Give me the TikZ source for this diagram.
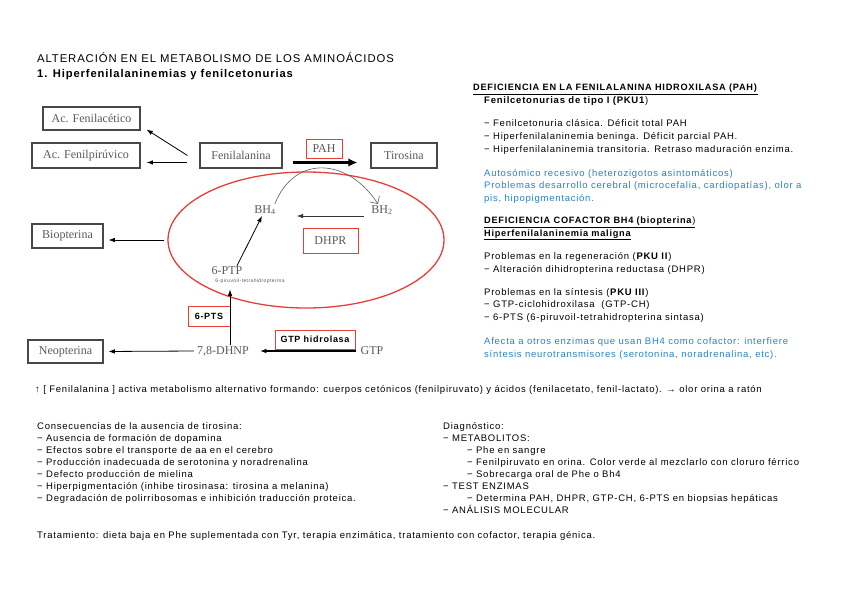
\documentclass[tikz,border=0pt]{standalone}
\usepackage{fontspec}
\setmainfont[LetterSpace=8]{Liberation Sans}
\newfontfamily\boxfont{Liberation Serif}
\usetikzlibrary{arrows.meta,positioning,calc,shapes.geometric}
\definecolor{boxgray}{RGB}{90,90,90}
\definecolor{enzred}{RGB}{232,62,56}
\definecolor{noteblue}{RGB}{38,130,200}
\begin{document}
\begin{tikzpicture}[x=1pt,y=-1pt,
 txt/.style={anchor=base west,inner sep=0,align=left,font=\fontsize{9.5}{12.4}\selectfont},
 low/.style={txt,font=\fontsize{9.5}{12}\selectfont},
 head/.style={txt,font=\fontsize{9.2}{12.4}\selectfont},
 met/.style={draw=boxgray!80!black,line width=1.1pt,fill=white,font=\boxfont\fontsize{12}{14}\selectfont,text=boxgray,inner sep=0},
 lbl/.style={font=\boxfont\fontsize{12}{14}\selectfont,text=boxgray,inner sep=1pt},
 enz/.style={draw=enzred,line width=0.9pt,fill=white,inner sep=0},
 arr/.style={-{Latex[length=2.2mm,width=1.6mm]},line width=0.8pt},
 bigarr/.style={-{Latex[length=3.2mm,width=3mm]},line width=2.6pt}]
\useasboundingbox (0,0) rectangle (848,599);
\node[txt,font=\fontsize{11.3}{13}\selectfont] (title) at (37,63) {ALTERACIÓN EN EL METABOLISMO DE LOS AMINOÁCIDOS};
\node[txt,font=\bfseries\fontsize{11.2}{13}\selectfont] (subtitle) at (37,78) {1. Hiperfenilalaninemias y fenilcetonurias};
\node[ellipse,draw=enzred,line width=1.3pt,minimum width=276,minimum height=136] (cycle) at (306,240) {};
\node[met,minimum width=97,minimum height=23] (acfa) at (91.5,118.5) {Ac. Fenilacético};
\node[met,minimum width=108,minimum height=25] (acfp) at (86,155.5) {Ac. Fenilpirúvico};
\node[met,minimum width=82,minimum height=25] (fen) at (241,155.5) {Fenilalanina};
\node[met,minimum width=66,minimum height=25] (tir) at (404,155.5) {Tirosina};
\node[met,minimum width=71,minimum height=24] (biop) at (67.5,236) {Biopterina};
\node[met,minimum width=75,minimum height=23] (neop) at (65.5,351.5) {Neopterina};
\node[enz,lbl,minimum width=36,minimum height=19] (pah) at (324,148.5) {PAH};
\node[enz,lbl,minimum width=55,minimum height=25] (dhpr) at (330.5,240.5) {DHPR};
\node[enz,font=\bfseries\fontsize{9}{11}\selectfont,minimum width=42,minimum height=20] (pts) at (209,316) {6-PTS};
\node[enz,font=\bfseries\fontsize{9}{11}\selectfont,minimum width=80,minimum height=19] (gtph) at (315,339.5) {GTP hidrolasa};
\node[lbl] (bh4) at (265,210) {BH\textsubscript{4}};
\node[lbl] (bh2) at (382,210) {BH\textsubscript{2}};
\node[lbl] (ptp) at (227,271) {6-PTP};
\node[inner sep=0,font=\fontsize{5}{6}\selectfont,text=boxgray] (ptpname) at (250,281) {6-piruvoil-tetrahidropterina};
\node[lbl] (dhnp) at (223,351) {7,8-DHNP};
\node[lbl] (gtp) at (372,351) {GTP};
\draw[arr] ([xshift=-12pt]fen.west) -- ([xshift=6pt,yshift=1pt]acfa.south east);
\draw[arr] ([xshift=-12pt,yshift=-7pt]fen.west) -- ([xshift=6pt,yshift=-7pt]acfp.east);
\draw[bigarr] ([xshift=10pt,yshift=-7pt]fen.east) -- ([xshift=-13pt,yshift=-7pt]tir.west);
\draw[-{Straight Barb[length=2mm]},boxgray,line width=0.6pt] ([xshift=-2pt]bh4.north east) .. controls +(20,-50) and +(-30,-46) .. ([xshift=-4pt]bh2.north);
\draw[arr,boxgray!60!black,shorten <=6pt,shorten >=20pt] ([yshift=-6pt]bh2.west) -- ([yshift=-6pt]bh4.east);
\draw[arr,shorten <=3pt,shorten >=5pt] (cycle.west) -- (cycle.west -| biop.east);
\draw[arr] ([xshift=10pt]ptp.north) -- ([xshift=-3pt]bh4.south);
\draw[arr] ([xshift=7pt]dhnp.north) -- ([xshift=7pt,yshift=-6pt]dhnp.north |- ptpname.south);
\draw[arr,line width=1.2pt,shorten <=3pt,shorten >=10pt] (gtp.west) -- (dhnp.east);
\draw[arr,shorten <=2pt,shorten >=5pt] (dhnp.west) -- (neop.east);
\node[head] (pahhead) at (473,91) {\underline{\textbf{DEFICIENCIA EN LA FENILALANINA HIDROXILASA (PAH)}}};
\node[txt] (pku1) at (484,103) {\textbf{Fenilcetonurias de tipo I (PKU1})};
\node[txt,font=\fontsize{9.5}{13}\selectfont] (pku1list) at (484,152) {− Fenilcetonuria clásica. Déficit total PAH\\− Hiperfenilalaninemia beninga. Déficit parcial PAH.\\− Hiperfenilalaninemia transitoria. Retraso maduración enzima.};
\node[txt,text=noteblue] (pku1note) at (484,201) {Autosómico recesivo (heterozigotos asintomáticos)\\Problemas desarrollo cerebral (microcefalia, cardiopatías), olor a\\pis, hipopigmentación.};
\node[head] (bh4head) at (484,236) {\underline{\textbf{DEFICIENCIA COFACTOR BH4 (biopterina})}\\\underline{\textbf{Hiperfenilalaninemia maligna}}};
\node[txt] (pku2) at (484,272) {Problemas en la regeneración (\textbf{PKU II})\\− Alteración dihidropterina reductasa (DHPR)};
\node[txt] (pku3) at (484,320) {Problemas en la síntesis (\textbf{PKU III})\\− GTP-ciclohidroxilasa\ \ (GTP-CH)\\− 6-PTS (6-piruvoil-tetrahidropterina sintasa)};
\node[txt,text=noteblue] (bh4note) at (484,357) {Afecta a otros enzimas que usan BH4 como cofactor: interfiere\\síntesis neurotransmisores (serotonina, noradrenalina, etc).};
\node[txt] (note) at (35,392) {↑\ [ Fenilalanina ] activa metabolismo alternativo formando: cuerpos cetónicos (fenilpiruvato) y ácidos (fenilacetato, fenil-lactato). → olor orina a ratón};
\node[low] (conseq) at (37,501) {Consecuencias de la ausencia de tirosina:\\− Ausencia de formación de dopamina\\− Efectos sobre el transporte de aa en el cerebro\\− Producción inadecuada de serotonina y noradrenalina\\− Defecto producción de mielina\\− Hiperpigmentación (inhibe tirosinasa: tirosina a melanina)\\− Degradación de polirribosomas e inhibición traducción proteica.};
\node[low] (diag) at (443,513) {Diagnóstico:\\− METABOLITOS:\\\hspace*{24pt}− Phe en sangre\\\hspace*{24pt}− Fenilpiruvato en orina. Color verde al mezclarlo con cloruro férrico\\\hspace*{24pt}− Sobrecarga oral de Phe o Bh4\\− TEST ENZIMAS\\\hspace*{24pt}− Determina PAH, DHPR, GTP-CH, 6-PTS en biopsias hepáticas\\− ANÁLISIS MOLECULAR};
\node[txt] (treat) at (37,538) {Tratamiento: dieta baja en Phe suplementada con Tyr, terapia enzimática, tratamiento con cofactor, terapia génica.};
\end{tikzpicture}
\end{document}
